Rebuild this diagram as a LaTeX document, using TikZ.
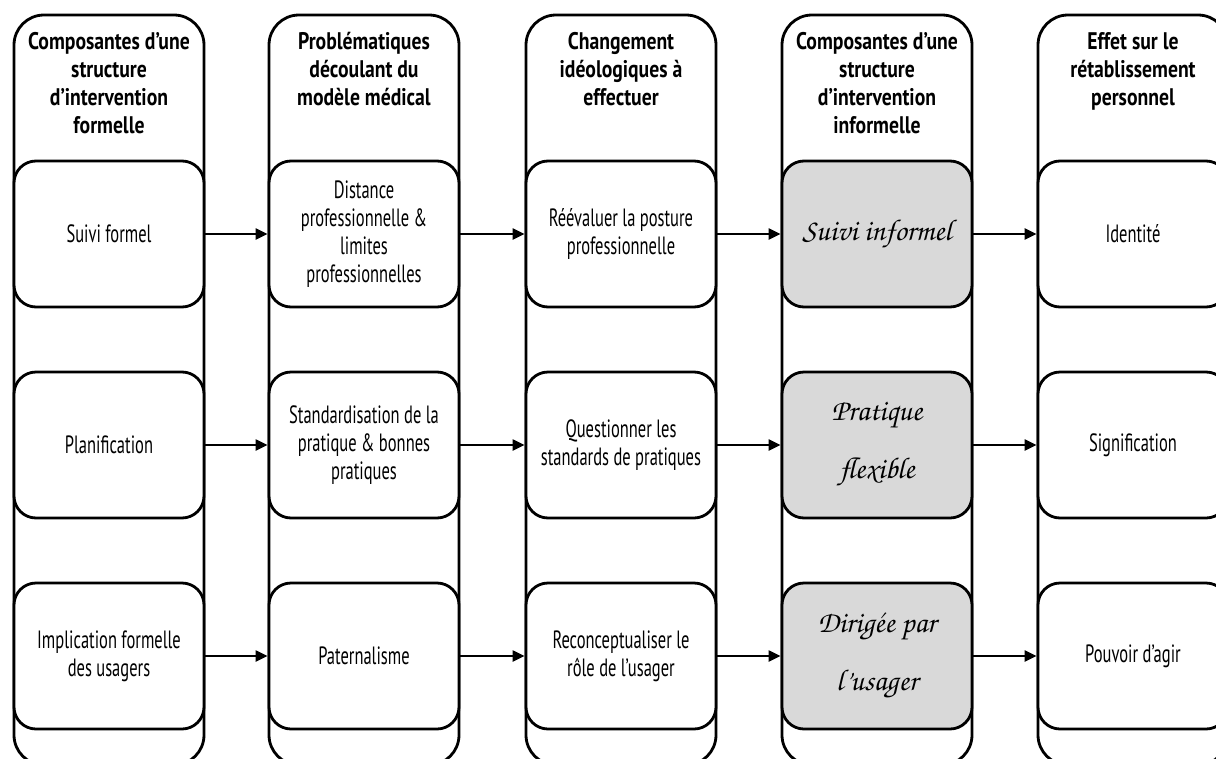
\documentclass[tikz,border=0pt]{standalone}
\usepackage[T1]{fontenc}
\usepackage{fontspec}
\setmainfont[FakeStretch=0.66]{PT Sans}
\newfontfamily\headfont[FakeStretch=0.82]{PT Sans}
\usetikzlibrary{arrows.meta}
% handwritten-style face for the informal components
\newcommand\handfont{\fontencoding{T1}\fontfamily{pzc}\fontseries{mb}\fontshape{it}\selectfont}
\definecolor{cellgrey}{HTML}{D9D9D9}
\begin{document}
\begin{tikzpicture}[x=1pt,y=-1pt,
  lane/.style={draw, line width=2.8pt, rounded corners=30pt,
    minimum width=190pt, minimum height=750pt, inner sep=0pt},
  head/.style={anchor=north, align=center, inner sep=0pt,
    font=\headfont\fontsize{24}{28}\selectfont\bfseries},
  cell/.style={draw, fill=white, line width=2.8pt, rounded corners=22pt,
    minimum width=190pt, minimum height=146pt, inner sep=0pt, align=center,
    font=\fontsize{25}{28}\selectfont},
  hand/.style={cell, fill=cellgrey, font=\handfont\fontsize{30}{58}\selectfont},
  link/.style={line width=2.2pt, -{Triangle[length=12pt,width=11pt]}}]
\useasboundingbox (0,0) rectangle (1216,758);
\clip (0,0) rectangle (1216,758);

% lanes
\node[lane] (c1) at (109,390) {};
\node[lane] (c2) at (364,390) {};
\node[lane] (c3) at (621,390) {};
\node[lane] (c4) at (877,390) {};
\node[lane] (c5) at (1133,390) {};

% lane titles
\node[head] (h1) at (109,32) {Composantes d’une\\structure\\d’intervention\\formelle};
\node[head] (h2) at (364,32) {Problématiques\\découlant du\\modèle médical};
\node[head] (h3) at (621,32) {Changement\\idéologiques à\\effectuer};
\node[head] (h4) at (877,32) {Composantes d’une\\structure\\d’intervention\\informelle};
\node[head] (h5) at (1133,32) {Effet sur le\\rétablissement\\personnel};

% first row
\node[cell] (a1) at (109,234) {Suivi formel};
\node[cell] (a2) at (364,234) {Distance\\professionnelle \&\\limites\\professionnelles};
\node[cell] (a3) at (621,234) {Réévaluer la posture\\professionnelle};
\node[hand] (a4) at (877,234) {Suivi informel};
\node[cell] (a5) at (1133,234) {Identité};

% second row
\node[cell] (b1) at (109,445) {Planification};
\node[cell] (b2) at (364,445) {Standardisation de la\\pratique \& bonnes\\pratiques};
\node[cell] (b3) at (621,445) {Questionner les\\standards de pratiques};
\node[hand] (b4) at (877,445) {Pratique\\flexible};
\node[cell] (b5) at (1133,445) {Signification};

% third row
\node[cell] (d1) at (109,656) {Implication formelle\\des usagers};
\node[cell] (d2) at (364,656) {Paternalisme};
\node[cell] (d3) at (621,656) {Reconceptualiser le\\rôle de l’usager};
\node[hand] (d4) at (877,656) {Dirigée par\\l'usager};
\node[cell] (d5) at (1133,656) {Pouvoir d’agir};

% connectors
\foreach \r in {a,b,d}{
  \draw[link] (\r1) -- (\r2);
  \draw[link] (\r2) -- (\r3);
  \draw[link] (\r3) -- (\r4);
  \draw[link] (\r4) -- (\r5);
}
\end{tikzpicture}
\end{document}
